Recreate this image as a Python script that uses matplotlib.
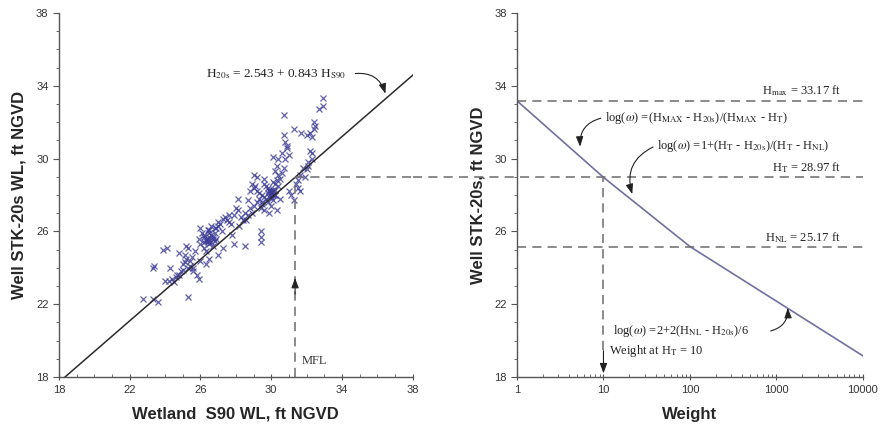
import matplotlib
matplotlib.use("Agg")
import matplotlib.pyplot as plt
from matplotlib.ticker import MultipleLocator, FixedLocator, LogLocator, NullFormatter, FixedFormatter

plt.rcParams['mathtext.fontset'] = 'stix'
plt.rcParams['font.family'] = ['Liberation Sans', 'DejaVu Sans']

# Paired water levels (ft NGVD): wetland S90 vs. well STK-20s
s90 = [22.75, 23.3, 23.6, 23.4, 23.3, 23.9, 24.1, 24.0, 24.2, 24.3, 24.4, 24.6, 24.8, 24.9,
       25.0, 25.1, 25.3, 25.2, 25.3, 25.3, 25.4, 25.5, 25.6, 25.7, 25.8, 25.9, 25.6, 24.8,
       25.0, 25.1, 24.7, 24.5, 25.2, 25.4,
       26.0, 25.9, 26.0, 26.2, 26.3, 26.4, 26.5, 26.6, 26.7, 26.8, 26.2, 26.3, 26.5, 26.3,
       26.0, 26.8, 26.9, 27.0, 27.1, 27.2, 27.0, 27.3, 27.4, 27.5, 27.6, 27.7, 27.8, 27.9,
       28.0, 28.1, 27.9, 28.2, 28.5, 28.3, 26.6, 26.1, 26.4, 26.5, 26.7, 26.4, 26.6, 26.3,
       26.9, 27.0, 26.2, 26.5, 26.8, 27.3, 27.6, 28.1, 28.4, 26.4, 26.7, 26.5, 26.2,
       28.6, 28.7, 28.8, 28.9, 29.0, 29.0, 29.2, 29.1, 29.2, 29.3, 29.4, 29.5, 29.6, 29.4,
       29.4, 29.4, 29.5, 29.6, 29.7, 29.8, 29.9, 30.0, 30.1, 30.2, 30.1, 30.0, 29.9, 30.3,
       30.2, 30.3, 30.4, 30.1, 30.3, 30.4, 30.5, 29.7, 29.3, 29.0, 28.8, 28.7, 28.5, 29.8,
       29.9, 30.0, 30.1, 30.2, 29.6, 29.5, 30.0, 30.1, 29.8, 29.2, 28.9, 29.6, 30.2, 30.4,
       30.0, 30.1, 29.9, 30.2,
       30.6, 30.7, 30.6, 30.8, 30.7, 30.9, 31.0, 30.7, 31.0, 31.1, 31.3, 31.5, 31.6, 31.4,
       31.6, 31.3, 31.7, 32.0, 32.2, 32.3, 32.4, 32.4, 32.5, 32.2, 32.3, 32.1, 32.0, 31.8,
       32.7, 32.9, 32.9, 31.9, 32.3, 30.8, 30.5, 31.5, 32.1, 30.9]
stk = [22.3, 22.3, 22.1, 24.1, 24.0, 25.0, 25.1, 23.3, 23.3, 24.0, 23.4, 23.5, 24.8, 23.8,
       24.2, 24.3, 22.4, 25.2, 25.1, 24.0, 24.1, 24.6, 24.0, 24.9, 23.6, 23.4, 23.8, 23.6,
       23.9, 24.7, 23.6, 23.2, 24.5, 24.4,
       26.2, 25.6, 25.3, 25.8, 25.5, 25.6, 25.9, 25.4, 25.7, 25.5, 25.1, 24.9, 24.5, 24.2,
       24.4, 25.9, 26.2, 26.5, 26.4, 26.0, 24.7, 25.1, 26.8, 26.6, 26.5, 26.4, 25.8, 25.3,
       27.3, 27.8, 26.9, 26.3, 25.2, 26.8, 26.3, 25.9, 26.1, 25.7, 25.2, 25.4, 25.8, 25.6,
       25.6, 26.3, 25.4, 26.1, 26.2, 26.7, 26.9, 27.2, 26.6, 25.5, 25.6, 25.3, 25.7,
       26.6, 26.9, 27.3, 27.0, 27.4, 29.1, 29.0, 28.5, 28.2, 27.8, 27.3, 27.5, 27.2, 25.7,
       25.4, 26.0, 28.0, 28.6, 28.5, 27.6, 27.9, 28.2, 28.0, 28.3, 28.7, 27.4, 27.0, 27.2,
       29.3, 29.6, 30.0, 30.1, 28.8, 28.5, 27.8, 27.8, 28.1, 28.4, 28.2, 27.7, 27.0, 28.1,
       28.3, 28.0, 28.2, 28.0, 27.9, 27.6, 27.9, 27.7, 28.4, 27.6, 28.6, 28.9, 28.6, 29.1,
       28.1, 28.3, 28.2, 28.0,
       30.3, 29.5, 29.2, 30.9, 31.3, 30.6, 30.2, 32.4, 28.2, 28.0, 27.7, 28.4, 28.2, 28.6,
       29.1, 31.6, 31.4, 31.3, 31.4, 31.2, 31.6, 32.0, 31.8, 30.4, 30.3, 29.8, 29.4, 29.5,
       32.7, 32.9, 33.3, 29.0, 30.0, 30.0, 28.9, 28.8, 29.6, 30.7]

# Regression of well level on wetland level
fit_a, fit_b = 2.543, 0.843

# Reference heads (ft NGVD) and weight curve breakpoints
h_max, h_t, h_nl = 33.17, 28.97, 25.17
weight_pts = [1, 10, 100, 10000]
head_pts = [33.17, 28.97, 25.17, 19.17]
weight_at_ht = 10

DASH = dict(color='#6b6b6b', lw=1.1, ls=(0, (6, 4)))
SERIF = ['Liberation Serif', 'DejaVu Serif']
LBL = dict(fontsize=12, fontweight='bold', color='#262626')
ARROW = dict(arrowstyle='-|>,head_length=0.6,head_width=0.22', color='#222222', lw=0.8)

fig = plt.figure(figsize=(8.8, 4.29), dpi=100)
ax1 = fig.add_axes([0.067, 0.121, 0.402, 0.849])
ax2 = fig.add_axes([0.5875, 0.121, 0.393, 0.849])

for ax in (ax1, ax2):
    for side in ('top', 'right'):
        ax.spines[side].set_visible(False)
    for side in ('left', 'bottom'):
        ax.spines[side].set_color('#555555')
        ax.spines[side].set_linewidth(1.0)
    ax.set_ylim(18, 38)
    ax.yaxis.set_major_locator(FixedLocator([18, 22, 26, 30, 34, 38]))
    ax.yaxis.set_minor_locator(MultipleLocator(1))
    ax.tick_params(axis='both', which='both', colors='#555555', labelcolor='#333333',
                   labelsize=8)
    ax.tick_params(axis='y', which='major', direction='out', length=4)
    ax.tick_params(axis='y', which='minor', direction='out', length=2.5)
    ax.tick_params(axis='x', which='major', direction='inout', length=5)
    ax.tick_params(axis='x', which='minor', direction='in', length=2.5)

# ---- left panel: scatter and regression ----
ax1.set_xlim(18, 38)
ax1.xaxis.set_major_locator(FixedLocator([18, 22, 26, 30, 34, 38]))
ax1.xaxis.set_minor_locator(MultipleLocator(1))
ax1.plot(s90, stk, ls='none', marker='x', ms=4, mew=0.9, color='#3a3a96', alpha=0.8)
xs = [18, 38]
ax1.plot(xs, [fit_a + fit_b * x for x in xs], color='#2b2b2b', lw=1.1)

x_mfl = (h_t - fit_a) / fit_b
ax1.plot([x_mfl, x_mfl], [18, h_t], **DASH)
ax1.plot([x_mfl, 38], [h_t, h_t], **DASH)
ax1.annotate('', xy=(x_mfl, 23.6), xytext=(x_mfl, 22.4), arrowprops=ARROW)
ax1.text(x_mfl + 0.4, 18.7, 'MFL', family=SERIF, fontsize=9, color='#333333')
ax1.text(30.3, 34.6, r'H$_{\mathrm{20s}}$ = 2.543 + 0.843 H$_{\mathrm{S90}}$',
         family=SERIF, fontsize=9.5, ha='center', va='center', color='#222222')
ax1.annotate('', xy=(36.5, fit_a + fit_b * 36.5 + 0.1), xytext=(34.6, 34.65),
             arrowprops=dict(ARROW, connectionstyle='arc3,rad=-0.45'))
ax1.set_xlabel('Wetland  S90 WL, ft NGVD', labelpad=8, **LBL)
ax1.set_ylabel('Well STK-20s WL, ft NGVD', labelpad=7, **LBL)

# ---- right panel: weight curve ----
ax2.set_xscale('log')
ax2.set_xlim(1, 10000)
ax2.xaxis.set_major_locator(FixedLocator([1, 10, 100, 1000, 10000]))
ax2.xaxis.set_major_formatter(FixedFormatter(['1', '10', '100', '1000', '10000']))
ax2.xaxis.set_minor_locator(LogLocator(base=10, subs=range(2, 10)))
ax2.xaxis.set_minor_formatter(NullFormatter())
ax2.plot(weight_pts, head_pts, color='#7070a0', lw=1.2)

for h in (h_max, h_nl):
    ax2.plot([1, 10000], [h, h], clip_on=False, **DASH)
ax2.plot([-0.30, 1.0], [h_t, h_t], transform=ax2.get_yaxis_transform(), clip_on=False, **DASH)
ax2.plot([weight_at_ht, weight_at_ht], [19.5, h_t], **DASH)
ax2.annotate('', xy=(weight_at_ht, 18.05), xytext=(weight_at_ht, 19.6), arrowprops=ARROW)

TXT = dict(family=SERIF, fontsize=9, color='#222222')
ax2.text(5600, 33.75, r'H$_{\mathrm{max}}$ = 33.17 ft', ha='right', va='center', **TXT)
ax2.text(5600, 29.5, r'H$_{\mathrm{T}}$ = 28.97 ft', ha='right', va='center', **TXT)
ax2.text(5600, 25.65, r'H$_{\mathrm{NL}}$ = 25.17 ft', ha='right', va='center', **TXT)

ax2.text(10.5, 32.25, r'log($\omega$) =(H$_{\mathrm{MAX}}$ - H$_{\mathrm{20s}}$)/(H$_{\mathrm{MAX}}$ - H$_{\mathrm{T}}$)',
         ha='left', va='center', **TXT)
ax2.annotate('', xy=(5.4, 30.5), xytext=(10.0, 32.25),
             arrowprops=dict(ARROW, connectionstyle='arc3,rad=0.45'))

ax2.text(42, 30.7, r'log($\omega$) =1+(H$_{\mathrm{T}}$ - H$_{\mathrm{20s}}$)/(H$_{\mathrm{T}}$ - H$_{\mathrm{NL}}$)',
         ha='left', va='center', **TXT)
ax2.annotate('', xy=(22, 27.9), xytext=(40, 30.7),
             arrowprops=dict(ARROW, connectionstyle='arc3,rad=0.45'))

ax2.text(13, 20.55, r'log($\omega$) =2+2(H$_{\mathrm{NL}}$ - H$_{\mathrm{20s}}$)/6',
         ha='left', va='center', **TXT)
ax2.annotate('', xy=(1350, 21.95), xytext=(800, 20.5),
             arrowprops=dict(ARROW, connectionstyle='arc3,rad=0.45'))

ax2.text(11.5, 19.45, r'Weight at H$_{\mathrm{T}}$ = 10', ha='left', va='center', **TXT)

ax2.set_xlabel('Weight', labelpad=8, **LBL)
ax2.set_ylabel('Well STK-20s, ft NGVD', labelpad=6, **LBL)

fig.savefig('out.png', dpi=100)
